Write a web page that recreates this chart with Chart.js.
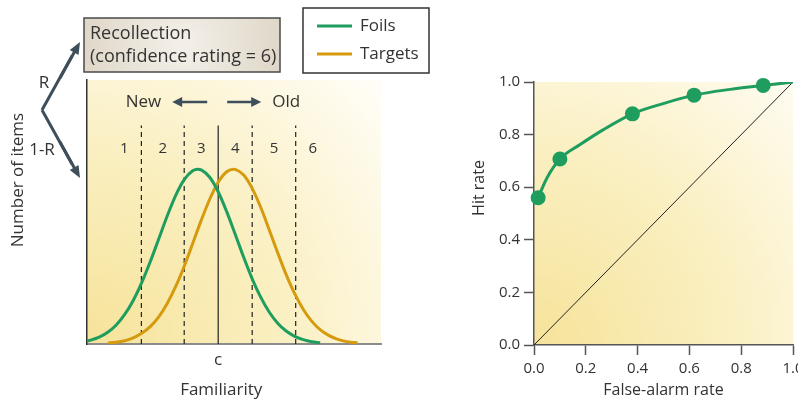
<!DOCTYPE html>
<html>
<head>
<meta charset="utf-8">
<script src="https://cdn.jsdelivr.net/npm/chart.js@4.4.1/dist/chart.umd.min.js"></script>
<style>
  html, body { margin: 0; padding: 0; background: #fff; overflow: hidden; }
  #wrap { position: relative; width: 798px; height: 402px; overflow: hidden; }
  #left { position: absolute; left: 0; top: 0; }
  #right { position: absolute; left: 440px; top: 0; }
</style>
</head>
<body>
<div id="wrap">
  <canvas id="left" width="440" height="402"></canvas>
  <canvas id="right" width="380" height="402"></canvas>
</div>
<script>
// left panel: familiarity distributions (peak = 100), criterion c at 0
const foilX = [-3.86, -3.75, -3.5, -3.25, -3, -2.75, -2.5, -2.25, -2, -1.75, -1.5, -1.25, -1, -0.75, -0.6, -0.5, -0.25, 0, 0.25, 0.5, 0.75, 1, 1.25, 1.5, 1.75, 2, 2.25, 2.5, 2.75, 3];
const foilY = [1.7, 2.2, 3.9, 6.7, 10.9, 16.9, 24.9, 35.1, 47.0, 60.1, 73.2, 85.0, 94.0, 99.1, 100, 99.6, 95.4, 87.1, 75.7, 62.8, 49.6, 37.3, 26.8, 18.3, 11.9, 7.4, 4.4, 2.5, 1.3, 0.7];
const targetX = [-3.25, -3, -2.75, -2.5, -2.25, -2, -1.75, -1.5, -1.25, -1, -0.75, -0.5, -0.25, 0, 0.25, 0.45, 0.5, 0.75, 1, 1.25, 1.5, 1.75, 2, 2.25, 2.5, 2.75, 3, 3.25, 3.5, 3.75, 4.0, 4.1];
const targetY = [0.5, 1.0, 1.9, 3.5, 6.1, 9.9, 15.5, 23.2, 32.9, 44.5, 57.5, 70.7, 82.8, 92.5, 98.5, 100, 99.9, 96.6, 89.0, 78.2, 65.4, 52.2, 39.7, 28.8, 19.9, 13.1, 8.2, 4.9, 2.8, 1.5, 0.8, 0.6];
const criteria = [-2.26, -1, 0, 1, 2.28];
const ratings = ['1', '2', '3', '4', '5', '6'];
const seriesNames = ['Foils', 'Targets'];

// right panel: ROC
const rocFA = [0.016, 0.05, 0.10, 0.178, 0.268, 0.38, 0.499, 0.618, 0.758, 0.885, 1.0];
const rocHit = [0.56, 0.635, 0.707, 0.762, 0.819, 0.879, 0.918, 0.95, 0.972, 0.987, 1.0];
const pointFA = [0.016, 0.10, 0.38, 0.618, 0.885];
const pointHit = [0.56, 0.707, 0.879, 0.95, 0.987];
const chanceFA = [0, 1];
const chanceHit = [0, 1];
const rateTicks = [0, 0.2, 0.4, 0.6, 0.8, 1.0];

const GREEN = '#1f9d5f';
const ORANGE = '#d69a0e';
const INK = '#333';
const ARROW = '#3e4f5b';
const FONT = "'Open Sans', 'Noto Sans', sans-serif";
const lineTop = 125;

const toPts = (xs, ys) => xs.map((x, i) => ({ x, y: ys[i] }));

function arrow(ctx, x1, y1, x2, y2, w, hl, hw) {
    const a = Math.atan2(y2 - y1, x2 - x1);
    ctx.strokeStyle = ARROW;
    ctx.fillStyle = ARROW;
    ctx.lineWidth = w;
    ctx.beginPath();
    ctx.moveTo(x1, y1);
    ctx.lineTo(x2 - Math.cos(a) * hl * 0.7, y2 - Math.sin(a) * hl * 0.7);
    ctx.stroke();
    ctx.beginPath();
    ctx.moveTo(x2, y2);
    ctx.lineTo(x2 - hl * Math.cos(a) + hw * Math.sin(a), y2 - hl * Math.sin(a) - hw * Math.cos(a));
    ctx.lineTo(x2 - hl * Math.cos(a) - hw * Math.sin(a), y2 - hl * Math.sin(a) + hw * Math.cos(a));
    ctx.closePath();
    ctx.fill();
}

function yellowBack(chart) {
    const { ctx, chartArea: a } = chart;
    const g = ctx.createRadialGradient(a.left, a.bottom, 0, a.left, a.bottom, 380);
    g.addColorStop(0, '#f6e39a');
    g.addColorStop(0.5, '#faefc0');
    g.addColorStop(1, '#fffdf5');
    ctx.save();
    ctx.fillStyle = g;
    ctx.fillRect(a.left, a.top, a.right - a.left, a.bottom - a.top);
    ctx.restore();
}

const leftDecor = {
    id: 'leftDecor',
    beforeDraw: yellowBack,
    afterDraw(chart) {
        const ctx = chart.ctx;
        const xs = chart.scales.x;
        const cx = xs.getPixelForValue(0);
        ctx.save();
        ctx.fillStyle = INK;
        ctx.textBaseline = 'middle';

        // axis titles
        ctx.font = '17px ' + FONT;
        ctx.textAlign = 'center';
        ctx.fillText('Familiarity', cx + 3, 390);
        ctx.save();
        ctx.translate(18, 180);
        ctx.rotate(-Math.PI / 2);
        ctx.fillText('Number of items', 0, 0);
        ctx.restore();

        // confidence ratings between criteria
        ctx.font = '15px ' + FONT;
        ratings.forEach((r, i) => {
            let v;
            if (i === 0) v = criteria[0] - 0.5;
            else if (i === ratings.length - 1) v = criteria[criteria.length - 1] + 0.5;
            else v = (criteria[i - 1] + criteria[i]) / 2;
            ctx.fillText(r, xs.getPixelForValue(v), 149);
        });

        // New <- -> Old
        ctx.font = '17px ' + FONT;
        ctx.textAlign = 'right';
        ctx.fillText('New', cx - 57, 102);
        ctx.textAlign = 'left';
        ctx.fillText('Old', cx + 54, 102);
        arrow(ctx, cx - 11, 102, cx - 46, 102, 2.5, 10, 5);
        arrow(ctx, cx + 9, 102, cx + 43, 102, 2.5, 10, 5);

        // recollection box
        const bg = ctx.createRadialGradient(182, 45, 5, 182, 45, 110);
        bg.addColorStop(0, '#f3efe8');
        bg.addColorStop(1, '#ddd5c5');
        ctx.fillStyle = bg;
        ctx.fillRect(84, 18, 196, 54);
        ctx.strokeStyle = '#4a4a4a';
        ctx.lineWidth = 1.5;
        ctx.strokeRect(84, 18, 196, 54);
        ctx.fillStyle = INK;
        ctx.font = '18px ' + FONT;
        ctx.textAlign = 'left';
        ctx.fillText('Recollection', 90, 34);
        ctx.fillText('(confidence rating = 6)', 90, 57);

        // R / 1-R fork
        ctx.beginPath();
        ctx.strokeStyle = ARROW;
        ctx.lineWidth = 3;
        ctx.moveTo(42, 110);
        ctx.lineTo(72, 56);
        ctx.moveTo(42, 110);
        ctx.lineTo(72, 164);
        ctx.stroke();
        arrow(ctx, 60, 78, 80, 42, 3, 12, 5);
        arrow(ctx, 60, 142, 80, 178, 3, 12, 5);
        ctx.fillStyle = INK;
        ctx.font = '17px ' + FONT;
        ctx.textAlign = 'center';
        ctx.fillText('R', 44, 83);
        ctx.fillText('1-R', 42, 150);

        // legend
        ctx.fillStyle = '#fff';
        ctx.fillRect(303, 8, 126, 65);
        ctx.strokeStyle = '#333';
        ctx.lineWidth = 1.5;
        ctx.strokeRect(303, 8, 126, 65);
        chart.data.datasets.filter(d => d.label).forEach((d, i) => {
            const y = 26 + i * 28;
            ctx.strokeStyle = d.borderColor;
            ctx.lineWidth = 3;
            ctx.beginPath();
            ctx.moveTo(317, y);
            ctx.lineTo(352, y);
            ctx.stroke();
            ctx.fillStyle = INK;
            ctx.textAlign = 'left';
            ctx.fillText(d.label, 360, y);
        });
        ctx.restore();
    }
};

const rightDecor = {
    id: 'rightDecor',
    beforeDraw: yellowBack,
    afterDraw(chart) {
        const ctx = chart.ctx;
        ctx.save();
        ctx.fillStyle = INK;
        ctx.font = '16px ' + FONT;
        ctx.textAlign = 'center';
        ctx.textBaseline = 'middle';
        ctx.translate(39, 188);
        ctx.rotate(-Math.PI / 2);
        ctx.fillText('Hit rate', 0, 0);
        ctx.restore();
    }
};

const criterionSets = criteria.map(c => ({
    data: [{ x: c, y: 0 }, { x: c, y: lineTop }],
    borderColor: '#222',
    borderWidth: 1.2,
    borderDash: c === 0 ? [] : [5, 4],
    pointRadius: 0
}));

new Chart(document.getElementById('left'), {
    type: 'line',
    data: {
        datasets: [
            { label: seriesNames[0], data: toPts(foilX, foilY), borderColor: GREEN, borderWidth: 3, pointRadius: 0, cubicInterpolationMode: 'monotone' },
            { label: seriesNames[1], data: toPts(targetX, targetY), borderColor: ORANGE, borderWidth: 3, pointRadius: 0, cubicInterpolationMode: 'monotone' },
            ...criterionSets
        ]
    },
    options: {
        responsive: false,
        animation: false,
        devicePixelRatio: 1,
        layout: { padding: { top: 80, right: 59, left: 0, bottom: 0 } },
        plugins: { legend: { display: false }, tooltip: { enabled: false } },
        scales: {
            x: {
                type: 'linear', min: -3.86, max: 4.79,
                grid: { display: false },
                border: { color: '#8c8c8c', width: 2 },
                afterBuildTicks: s => { s.ticks = [{ value: 0 }]; },
                ticks: { callback: () => 'c', color: INK, font: { family: FONT, size: 17 }, padding: -2, maxRotation: 0 },
                afterFit: s => { s.height = 58; }
            },
            y: {
                min: 0, max: 151,
                grid: { display: false },
                border: { color: '#333', width: 1.5 },
                ticks: { display: false },
                afterFit: s => { s.width = 87; }
            }
        }
    },
    plugins: [leftDecor]
});

const tickFont = { family: FONT, size: 15 };

new Chart(document.getElementById('right'), {
    type: 'line',
    data: {
        datasets: [
            { data: toPts(pointFA, pointHit), showLine: false, pointRadius: 7.5, pointBackgroundColor: GREEN, pointBorderWidth: 0, borderColor: GREEN, clip: false },
            { data: toPts(rocFA, rocHit), borderColor: GREEN, borderWidth: 3, pointRadius: 0, cubicInterpolationMode: 'monotone' },
            { data: toPts(chanceFA, chanceHit), borderColor: '#222', borderWidth: 1, pointRadius: 0 }
        ]
    },
    options: {
        responsive: false,
        animation: false,
        devicePixelRatio: 1,
        layout: { padding: { top: 82, right: 27, left: 0, bottom: 0 } },
        plugins: { legend: { display: false }, tooltip: { enabled: false } },
        scales: {
            x: {
                type: 'linear', min: 0, max: 1,
                afterBuildTicks: s => { s.ticks = rateTicks.map(v => ({ value: v })); },
                ticks: { callback: v => v.toFixed(1), color: INK, font: tickFont, padding: 5, maxRotation: 0 },
                grid: { drawOnChartArea: false, tickLength: 10, color: '#555', tickWidth: 1.5 },
                border: { color: '#555', width: 1.5 },
                title: { display: true, text: 'False-alarm rate', color: INK, font: { family: FONT, size: 16 }, padding: { top: 0, bottom: 2 } },
                afterFit: s => { s.height = 57; }
            },
            y: {
                min: 0, max: 1,
                afterBuildTicks: s => { s.ticks = rateTicks.map(v => ({ value: v })); },
                ticks: { callback: v => v.toFixed(1), color: INK, font: tickFont, padding: 4 },
                grid: { drawOnChartArea: false, tickLength: 10, color: '#555', tickWidth: 1.5 },
                border: { color: '#555', width: 1.5 },
                afterFit: s => { s.width = 94; }
            }
        }
    },
    plugins: [rightDecor]
});
</script>
</body>
</html>
